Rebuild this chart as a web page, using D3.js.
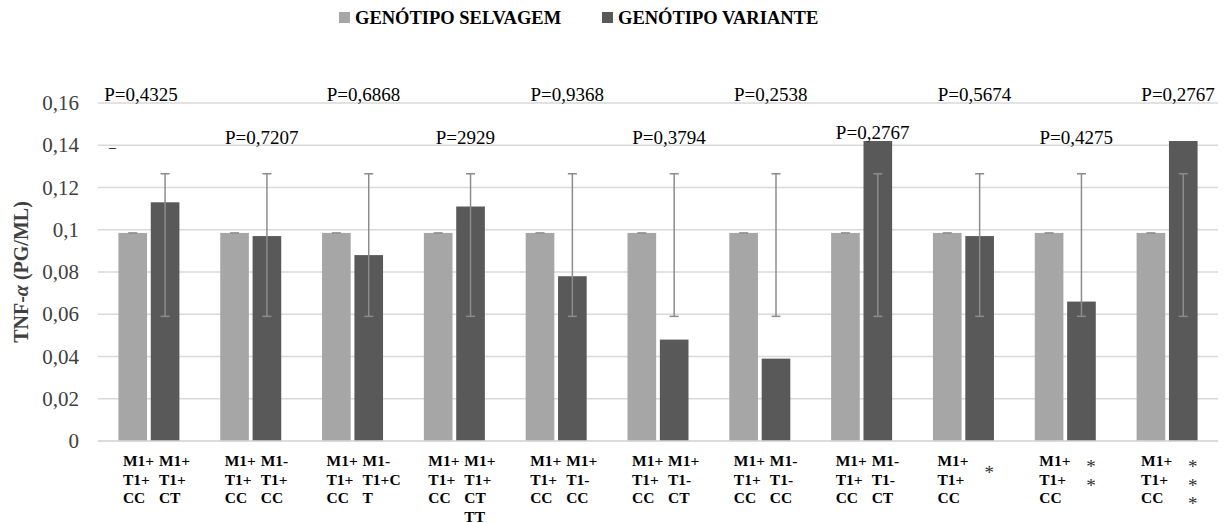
<!DOCTYPE html>
<html>
<head>
<meta charset="utf-8">
<script src="https://cdn.jsdelivr.net/npm/d3@7"></script>
</head>
<body style="margin:0">
<svg id="chart" width="1228" height="523"></svg>
<script>
// chart data
const series = ["GENÓTIPO SELVAGEM", "GENÓTIPO VARIANTE"];
const colours = ["#a6a6a6", "#595959"];
const categories = ["g1", "g2", "g3", "g4", "g5", "g6", "g7", "g8", "g9", "g10", "g11"];
const wildValues = [0.0985, 0.0985, 0.0985, 0.0985, 0.0985, 0.0985, 0.0985, 0.0985, 0.0985, 0.0985, 0.0985];
const variantValues = [0.113, 0.097, 0.088, 0.111, 0.078, 0.048, 0.039, 0.142, 0.097, 0.066, 0.142];
const variantErrLow = [0.059, 0.059, 0.059, 0.059, 0.059, 0.059, 0.059, 0.059, 0.059, 0.059, 0.059];
const variantErrHigh = [0.1265, 0.1265, 0.1265, 0.1265, 0.1265, 0.1265, 0.1265, 0.1265, 0.1265, 0.1265, 0.1265];
const pLabels = ["P=0,4325", "P=0,7207", "P=0,6868", "P=2929", "P=0,9368", "P=0,3794",
                 "P=0,2538", "P=0,2767", "P=0,5674", "P=0,4275", "P=0,2767"];
const pRow = [0, 1, 0, 1, 0, 1, 0, 1, 0, 1, 0];
const leftLabels = [
  ["M1+", "T1+", "CC"], ["M1+", "T1+", "CC"], ["M1+", "T1+", "CC"], ["M1+", "T1+", "CC"],
  ["M1+", "T1+", "CC"], ["M1+", "T1+", "CC"], ["M1+", "T1+", "CC"], ["M1+", "T1+", "CC"],
  ["M1+", "T1+", "CC"], ["M1+", "T1+", "CC"], ["M1+", "T1+", "CC"]
];
const rightLabels = [
  ["M1+", "T1+", "CT"], ["M1-", "T1+", "CC"], ["M1-", "T1+C", "T"], ["M1+", "T1+", "CT", "TT"],
  ["M1+", "T1-", "CC"], ["M1+", "T1-", "CT"], ["M1-", "T1-", "CC"], ["M1-", "T1-", "CT"],
  ["*"], ["*", "*"], ["*", "*", "*"]
];
const yTicks = [0, 0.02, 0.04, 0.06, 0.08, 0.1, 0.12, 0.14, 0.16];

const SERIF = '"Liberation Serif"';
const fmt = (v) => String(v).replace(".", ",");

const svg = d3.select("#chart");

const x = d3.scaleBand().domain(categories).range([98, 1218]);
const xSub = d3.scaleBand().domain(series).range([0, 61]).paddingInner(0.115);
const subOffset = x.bandwidth() / 2 - 30.5;
const y = d3.scaleLinear().domain([0, 0.16]).range([441, 103]);
const mid = (i) => x(categories[i]) + x.bandwidth() / 2;

// gridlines
svg.append("g")
  .selectAll("line")
  .data(yTicks)
  .join("line")
  .attr("x1", 98).attr("x2", 1218)
  .attr("y1", (d) => y(d)).attr("y2", (d) => y(d))
  .attr("stroke", "#d9d9d9").attr("stroke-width", 1.3);

// y axis labels
const yAxis = svg.append("g")
  .attr("transform", "translate(79,0)")
  .call(d3.axisLeft(y).tickValues(yTicks).tickFormat(fmt).tickSize(0).tickPadding(0));
yAxis.select(".domain").remove();
yAxis.selectAll("text")
  .style("font-family", SERIF)
  .style("font-size", "21px")
  .attr("fill", "#404040");

svg.append("text")
  .attr("transform", "translate(28,272) rotate(-90)")
  .attr("text-anchor", "middle")
  .style("font-family", SERIF)
  .style("font-size", "20px")
  .style("font-weight", "bold")
  .attr("fill", "#404040")
  .call((t) => {
    t.append("tspan").text("TNF-");
    t.append("tspan").style("font-style", "italic").text("α");
    t.append("tspan").text(" (PG/ML)");
  });

// bars
const groups = svg.append("g")
  .selectAll("g")
  .data(categories)
  .join("g")
  .attr("transform", (d) => `translate(${x(d) + subOffset},0)`);

groups.append("rect")
  .attr("x", xSub(series[0]))
  .attr("width", xSub.bandwidth())
  .attr("y", (d, i) => y(wildValues[i]))
  .attr("height", (d, i) => y(0) - y(wildValues[i]))
  .attr("fill", colours[0]);

groups.append("rect")
  .attr("x", xSub(series[1]))
  .attr("width", xSub.bandwidth())
  .attr("y", (d, i) => y(variantValues[i]))
  .attr("height", (d, i) => y(0) - y(variantValues[i]))
  .attr("fill", colours[1]);

// error bars
const errColour = "#8c8c8c";
const capW = 4.5;

groups.append("line")
  .attr("x1", xSub(series[0]) + xSub.bandwidth() / 2 - capW)
  .attr("x2", xSub(series[0]) + xSub.bandwidth() / 2 + capW)
  .attr("y1", (d, i) => y(wildValues[i]))
  .attr("y2", (d, i) => y(wildValues[i]))
  .attr("stroke", errColour).attr("stroke-width", 1.5);

const cx = xSub(series[1]) + xSub.bandwidth() / 2;
groups.append("line")
  .attr("x1", cx).attr("x2", cx)
  .attr("y1", (d, i) => y(variantErrLow[i]))
  .attr("y2", (d, i) => y(variantErrHigh[i]))
  .attr("stroke", errColour).attr("stroke-width", 1.5);
groups.append("line")
  .attr("x1", cx - capW).attr("x2", cx + capW)
  .attr("y1", (d, i) => y(variantErrLow[i]))
  .attr("y2", (d, i) => y(variantErrLow[i]))
  .attr("stroke", errColour).attr("stroke-width", 1.5);
groups.append("line")
  .attr("x1", cx - capW).attr("x2", cx + capW)
  .attr("y1", (d, i) => y(variantErrHigh[i]))
  .attr("y2", (d, i) => y(variantErrHigh[i]))
  .attr("stroke", errColour).attr("stroke-width", 1.5);

// x axis line
svg.append("line")
  .attr("x1", 98).attr("x2", 1218)
  .attr("y1", y(0)).attr("y2", y(0))
  .attr("stroke", "#d9d9d9").attr("stroke-width", 1.3);

// p-value notes
svg.append("g")
  .selectAll("text")
  .data(pLabels)
  .join("text")
  .attr("x", (d, i) => mid(i) + (i === 0 ? -8 : 11))
  .attr("y", (d, i) => (pRow[i] === 0 ? 101 : (i === 7 ? 139 : 144)))
  .attr("text-anchor", "middle")
  .style("font-family", SERIF)
  .style("font-size", "19px")
  .attr("fill", "#000")
  .text((d) => d);

svg.append("text")
  .attr("x", 109).attr("y", 152)
  .style("font-family", SERIF)
  .style("font-size", "14px")
  .text("–");

// category labels
const lineH = 18.5;
const labelCol = (labels, dx) => {
  svg.append("g")
    .selectAll("text")
    .data(labels)
    .join("text")
    .style("font-family", SERIF)
    .style("font-size", "15.5px")
    .style("font-weight", "bold")
    .attr("fill", "#000")
    .each(function (lines, i) {
      const t = d3.select(this);
      const stars = lines[0] === "*";
      const xx = mid(i) + dx + (stars ? 11 : 0);
      const dy = stars ? (lines.length === 1 ? 13 : 7) : 0;
      lines.forEach((l, k) => {
        t.append("tspan")
          .attr("x", xx)
          .attr("y", 466 + k * lineH + dy)
          .style("font-size", stars ? "19px" : null)
          .style("font-weight", stars ? "normal" : null)
          .attr("fill", stars ? "#333" : null)
          .text(l);
      });
    });
};
labelCol(leftLabels, -26);
labelCol(rightLabels, 10);

// legend
const legend = svg.append("g")
  .selectAll("g")
  .data(series)
  .join("g")
  .attr("transform", (d, i) => `translate(${i === 0 ? 339 : 602},12)`);
legend.append("rect")
  .attr("width", 11).attr("height", 11)
  .attr("fill", (d, i) => colours[i]);
legend.append("text")
  .attr("x", 16).attr("y", 11.5)
  .style("font-family", SERIF)
  .style("font-size", "18.5px")
  .style("font-weight", "bold")
  .attr("fill", "#000")
  .text((d) => d);
</script>
</body>
</html>
